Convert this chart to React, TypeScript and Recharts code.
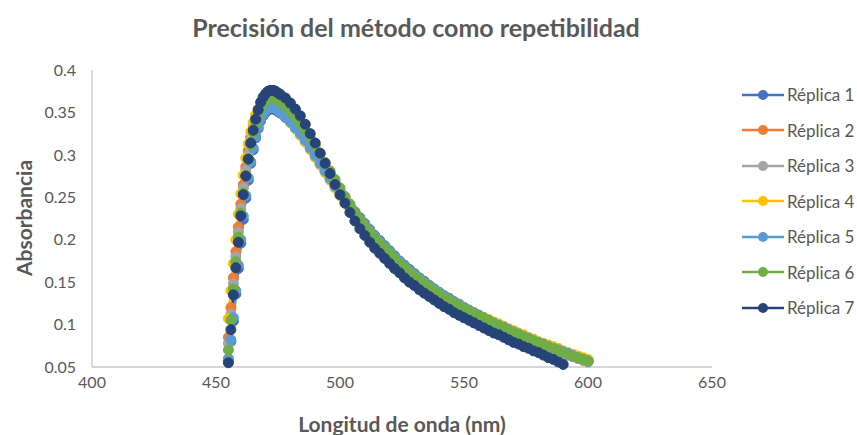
import { LineChart, Line, XAxis, YAxis } from "recharts"

// wavelength grid (nm)
const wavelengths = [
  455, 456, 457, 458, 459, 460, 461, 462, 463, 464, 465, 466, 467, 468, 469, 470, 471, 472, 473, 474, 475, 476,
  478, 480, 482, 484, 486, 488, 490, 492, 494, 496, 498,
  500, 502, 504, 506, 508, 510, 512, 514, 516, 518,
  520, 522, 524, 526, 528, 530, 532, 534, 536, 538,
  540, 542, 544, 546, 548, 550, 552, 554, 556, 558,
  560, 562, 564, 566, 568, 570, 572, 574, 576, 578,
  580, 582, 584, 586, 588, 590, 592, 594, 596, 598, 600,
]

const replica1 = [
  0.058, 0.080, 0.104, 0.136, 0.166, 0.196, 0.224, 0.249, 0.270, 0.290, 0.306, 0.320, 0.331, 0.340, 0.346, 0.350, 0.353, 0.354, 0.354, 0.353, 0.351, 0.349,
  0.344, 0.338, 0.331, 0.324, 0.316, 0.308, 0.299, 0.290, 0.281, 0.273, 0.264,
  0.256, 0.248, 0.240, 0.233, 0.226, 0.219, 0.212, 0.205, 0.199, 0.193,
  0.187, 0.181, 0.175, 0.170, 0.165, 0.160, 0.155, 0.151, 0.146, 0.142,
  0.138, 0.134, 0.131, 0.127, 0.124, 0.120, 0.117, 0.114, 0.111, 0.108,
  0.105, 0.102, 0.100, 0.097, 0.094, 0.092, 0.089, 0.087, 0.084, 0.082,
  0.079, 0.077, 0.075, 0.073, 0.070, 0.068, 0.066, 0.064, 0.062, 0.060, 0.058,
]

const replica2 = [
  0.085, 0.120, 0.155, 0.186, 0.215, 0.242, 0.265, 0.286, 0.305, 0.321, 0.334, 0.344, 0.352, 0.357, 0.360, 0.362, 0.363, 0.363, 0.362, 0.360, 0.358, 0.355,
  0.350, 0.344, 0.337, 0.330, 0.322, 0.313, 0.304, 0.295, 0.286, 0.276, 0.267,
  0.258, 0.249, 0.240, 0.231, 0.223, 0.215, 0.208, 0.201, 0.194, 0.188,
  0.182, 0.176, 0.171, 0.166, 0.161, 0.156, 0.151, 0.147, 0.143, 0.139,
  0.135, 0.131, 0.128, 0.124, 0.121, 0.118, 0.115, 0.112, 0.109, 0.106,
  0.103, 0.100, 0.098, 0.095, 0.092, 0.090, 0.087, 0.085, 0.082, 0.080,
  0.077, 0.075, 0.073, 0.071, 0.069, 0.066, 0.064, 0.062, 0.060, 0.058, 0.056,
]

const replica3 = [
  0.078, 0.112, 0.148, 0.180, 0.209, 0.237, 0.261, 0.282, 0.301, 0.318, 0.331, 0.342, 0.350, 0.356, 0.359, 0.361, 0.362, 0.362, 0.361, 0.359, 0.357, 0.354,
  0.349, 0.343, 0.336, 0.329, 0.321, 0.312, 0.303, 0.294, 0.285, 0.275, 0.266,
  0.257, 0.248, 0.239, 0.231, 0.223, 0.215, 0.208, 0.201, 0.194, 0.188,
  0.182, 0.176, 0.171, 0.165, 0.160, 0.156, 0.151, 0.147, 0.143, 0.139,
  0.135, 0.131, 0.127, 0.124, 0.121, 0.117, 0.114, 0.111, 0.108, 0.106,
  0.103, 0.100, 0.097, 0.095, 0.092, 0.089, 0.087, 0.084, 0.082, 0.080,
  0.077, 0.075, 0.073, 0.071, 0.068, 0.066, 0.064, 0.062, 0.060, 0.058, 0.056,
]

const replica4 = [
  0.107, 0.140, 0.172, 0.200, 0.230, 0.254, 0.276, 0.296, 0.313, 0.327, 0.338, 0.347, 0.354, 0.358, 0.361, 0.362, 0.362, 0.361, 0.359, 0.357, 0.354, 0.351,
  0.345, 0.338, 0.331, 0.323, 0.315, 0.306, 0.297, 0.288, 0.279, 0.270, 0.261,
  0.252, 0.244, 0.236, 0.228, 0.221, 0.214, 0.207, 0.201, 0.195, 0.189,
  0.183, 0.177, 0.172, 0.167, 0.162, 0.157, 0.153, 0.148, 0.144, 0.140,
  0.136, 0.133, 0.129, 0.126, 0.123, 0.120, 0.117, 0.114, 0.111, 0.108,
  0.106, 0.103, 0.101, 0.098, 0.095, 0.093, 0.090, 0.088, 0.085, 0.083,
  0.080, 0.078, 0.076, 0.074, 0.072, 0.069, 0.067, 0.065, 0.063, 0.061, 0.059,
]

const replica5 = [
  0.060, 0.082, 0.108, 0.140, 0.170, 0.200, 0.228, 0.252, 0.273, 0.292, 0.308, 0.322, 0.333, 0.342, 0.348, 0.352, 0.355, 0.356, 0.356, 0.355, 0.353, 0.350,
  0.345, 0.339, 0.332, 0.325, 0.317, 0.308, 0.299, 0.290, 0.281, 0.272, 0.263,
  0.255, 0.247, 0.239, 0.232, 0.225, 0.218, 0.211, 0.204, 0.198, 0.192,
  0.186, 0.180, 0.174, 0.169, 0.164, 0.159, 0.155, 0.150, 0.146, 0.142,
  0.138, 0.134, 0.130, 0.127, 0.123, 0.120, 0.117, 0.114, 0.111, 0.108,
  0.105, 0.102, 0.099, 0.097, 0.094, 0.091, 0.089, 0.086, 0.084, 0.081,
  0.079, 0.077, 0.074, 0.072, 0.070, 0.068, 0.066, 0.063, 0.061, 0.059, 0.057,
]

const replica6 = [
  0.070, 0.105, 0.142, 0.174, 0.203, 0.231, 0.255, 0.276, 0.295, 0.312, 0.326, 0.338, 0.347, 0.355, 0.360, 0.364, 0.366, 0.367, 0.367, 0.366, 0.364, 0.362,
  0.357, 0.351, 0.344, 0.337, 0.329, 0.320, 0.311, 0.301, 0.291, 0.281, 0.271,
  0.261, 0.251, 0.242, 0.233, 0.225, 0.217, 0.209, 0.202, 0.196, 0.190,
  0.184, 0.178, 0.172, 0.167, 0.162, 0.157, 0.153, 0.148, 0.144, 0.140,
  0.136, 0.132, 0.129, 0.125, 0.122, 0.119, 0.116, 0.113, 0.110, 0.107,
  0.104, 0.101, 0.099, 0.096, 0.093, 0.091, 0.088, 0.086, 0.083, 0.081,
  0.078, 0.076, 0.074, 0.072, 0.070, 0.067, 0.065, 0.063, 0.061, 0.059, 0.057,
]

// replica 7 stops at 590 nm
const replica7 = [
  0.055, 0.094, 0.135, 0.167, 0.197, 0.228, 0.253, 0.275, 0.295, 0.314, 0.329, 0.342, 0.353, 0.362, 0.368, 0.372, 0.375, 0.376, 0.376, 0.375, 0.373, 0.371,
  0.367, 0.361, 0.354, 0.346, 0.336, 0.325, 0.314, 0.302, 0.290, 0.278, 0.265,
  0.253, 0.243, 0.232, 0.222, 0.213, 0.205, 0.197, 0.190, 0.184, 0.178,
  0.172, 0.166, 0.161, 0.155, 0.150, 0.146, 0.141, 0.137, 0.133, 0.129,
  0.125, 0.121, 0.118, 0.114, 0.111, 0.108, 0.105, 0.102, 0.099, 0.096,
  0.093, 0.090, 0.088, 0.085, 0.082, 0.079, 0.077, 0.074, 0.072, 0.069,
  0.067, 0.064, 0.061, 0.059, 0.056, 0.053,
]

const seriesNames = ["Réplica 1", "Réplica 2", "Réplica 3", "Réplica 4", "Réplica 5", "Réplica 6", "Réplica 7"]
const seriesColors = ["#4472C4", "#ED7D31", "#A5A5A5", "#FFC000", "#5B9BD5", "#70AD47", "#264478"]
const xTicks = [400, 450, 500, 550, 600, 650]
const yTicks = [0.05, 0.1, 0.15, 0.2, 0.25, 0.3, 0.35, 0.4]

const replicas = [replica1, replica2, replica3, replica4, replica5, replica6, replica7]

const data = wavelengths.map((nm, i) => {
  const row: Record<string, number | null> = { nm }
  replicas.forEach((vals, k) => {
    row[`r${k + 1}`] = vals[i] ?? null
  })
  return row
})

const FONT = "Lato, 'Open Sans', sans-serif"
const TEXT = "#595959"

function AxisTitle({ px, py, rot = 0, text }: { px: number; py: number; rot?: number; text: string }) {
  return (
    <text
      x={px}
      y={py}
      transform={rot ? `rotate(${rot} ${px} ${py})` : undefined}
      textAnchor="middle"
      dominantBaseline="central"
      fill={TEXT}
      fontFamily={FONT}
      fontWeight={700}
      fontSize={21}
    >
      {text}
    </text>
  )
}

function LegendBox() {
  return (
    <div style={{ position: "absolute", left: 742, top: 77, width: 115 }}>
      {seriesNames.map((name, i) => (
        <div key={name} style={{ display: "flex", alignItems: "center", height: 35.5 }}>
          <svg width={42} height={14}>
            <line x1={0} y1={7} x2={42} y2={7} stroke={seriesColors[i]} strokeWidth={2.5} />
            <circle cx={21} cy={7} r={5} fill={seriesColors[i]} />
          </svg>
          <span style={{ marginLeft: 3, fontFamily: FONT, fontSize: 17, color: TEXT }}>{name}</span>
        </div>
      ))}
    </div>
  )
}

export default function App() {
  return (
    <div style={{ position: "absolute", left: 0, top: 0, width: 857, height: 435, background: "#fff" }}>
      <div
        style={{
          position: "absolute",
          left: 0,
          top: 13,
          width: 832,
          textAlign: "center",
          fontFamily: FONT,
          fontWeight: 700,
          fontSize: 25,
          lineHeight: "28px",
          color: TEXT,
        }}
      >
        Precisión del método como repetibilidad
      </div>
      <LineChart width={857} height={435} data={data} margin={{ top: 70, right: 145, bottom: 38, left: 0 }}>
        <XAxis
          dataKey="nm"
          type="number"
          domain={[400, 650]}
          ticks={xTicks}
          height={30}
          tickLine={false}
          tickSize={0}
          tickMargin={10}
          axisLine={{ stroke: "#C9C9C9", strokeWidth: 1.3 }}
          tick={{ fill: TEXT, fontSize: 16, fontFamily: FONT }}
          label={<AxisTitle px={402} py={423} text="Longitud de onda (nm)" />}
        />
        <YAxis
          type="number"
          domain={[0.05, 0.4]}
          ticks={yTicks}
          width={92}
          tickLine={false}
          tickSize={0}
          tickMargin={16}
          axisLine={{ stroke: "#C9C9C9", strokeWidth: 1.3 }}
          tick={{ fill: TEXT, fontSize: 16, fontFamily: FONT }}
          label={<AxisTitle px={23} py={218} rot={-90} text="Absorbancia" />}
        />
        {seriesNames.map((name, i) => (
          <Line
            key={name}
            name={name}
            dataKey={`r${i + 1}`}
            type="linear"
            stroke={seriesColors[i]}
            strokeWidth={2.5}
            dot={{ r: 5, fill: seriesColors[i], stroke: seriesColors[i], strokeWidth: 1 }}
            activeDot={false}
            isAnimationActive={false}
          />
        ))}
      </LineChart>
      <LegendBox />
    </div>
  )
}
